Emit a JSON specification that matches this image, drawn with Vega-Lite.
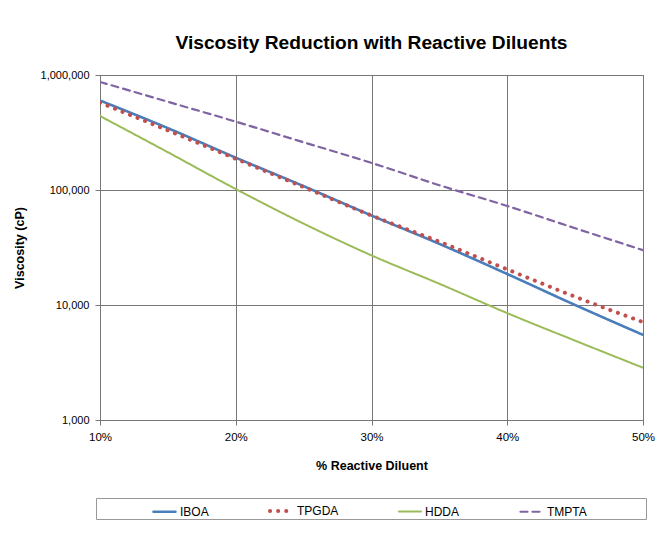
{
  "$schema": "https://vega.github.io/schema/vega-lite/v6.json",
  "width": 543,
  "height": 345,
  "autosize": {"type": "none"},
  "padding": {"left": 100, "top": 75, "right": 24, "bottom": 119},
  "background": "white",
  "title": {
    "text": "Viscosity Reduction with Reactive Diluents",
    "font": "Liberation Sans",
    "fontSize": 19.2,
    "fontWeight": "bold",
    "color": "black",
    "anchor": "middle",
    "offset": 16
  },
  "data": {
    "values": [
      {"pct": 10, "series": "IBOA", "v": 600000},
      {"pct": 15, "series": "IBOA", "v": 345000},
      {"pct": 20, "series": "IBOA", "v": 191000},
      {"pct": 25, "series": "IBOA", "v": 108000},
      {"pct": 30, "series": "IBOA", "v": 60000},
      {"pct": 35, "series": "IBOA", "v": 34000},
      {"pct": 40, "series": "IBOA", "v": 18600},
      {"pct": 45, "series": "IBOA", "v": 10000},
      {"pct": 50, "series": "IBOA", "v": 5500},
      {"pct": 10, "series": "TPGDA", "v": 575000},
      {"pct": 15, "series": "TPGDA", "v": 330000},
      {"pct": 20, "series": "TPGDA", "v": 187000},
      {"pct": 25, "series": "TPGDA", "v": 106000},
      {"pct": 30, "series": "TPGDA", "v": 60000},
      {"pct": 35, "series": "TPGDA", "v": 35500},
      {"pct": 40, "series": "TPGDA", "v": 20400},
      {"pct": 45, "series": "TPGDA", "v": 11800},
      {"pct": 50, "series": "TPGDA", "v": 7100},
      {"pct": 10, "series": "HDDA", "v": 440000},
      {"pct": 15, "series": "HDDA", "v": 213000},
      {"pct": 20, "series": "HDDA", "v": 102000},
      {"pct": 25, "series": "HDDA", "v": 51000},
      {"pct": 30, "series": "HDDA", "v": 27000},
      {"pct": 35, "series": "HDDA", "v": 15300},
      {"pct": 40, "series": "HDDA", "v": 8500},
      {"pct": 45, "series": "HDDA", "v": 4900},
      {"pct": 50, "series": "HDDA", "v": 2850},
      {"pct": 10, "series": "TMPTA", "v": 870000},
      {"pct": 15, "series": "TMPTA", "v": 585000},
      {"pct": 20, "series": "TMPTA", "v": 393000},
      {"pct": 25, "series": "TMPTA", "v": 260000},
      {"pct": 30, "series": "TMPTA", "v": 172000},
      {"pct": 35, "series": "TMPTA", "v": 110000},
      {"pct": 40, "series": "TMPTA", "v": 72600},
      {"pct": 45, "series": "TMPTA", "v": 46500},
      {"pct": 50, "series": "TMPTA", "v": 30000}
    ]
  },
  "mark": {"type": "line", "interpolate": "monotone", "strokeCap": "round", "clip": true},
  "encoding": {
    "x": {
      "field": "pct",
      "type": "quantitative",
      "scale": {"domain": [10, 50], "nice": false, "zero": false},
      "axis": {
        "title": "% Reactive Diluent",
        "values": [10, 20, 30, 40, 50],
        "labelExpr": "datum.value + '%'",
        "labelFlush": false,
        "labelPadding": 6,
        "titlePadding": 17
      }
    },
    "y": {
      "field": "v",
      "type": "quantitative",
      "scale": {"type": "log", "domain": [1000, 1000000], "nice": false},
      "axis": {
        "title": "Viscosity (cP)",
        "values": [1000, 10000, 100000, 1000000],
        "format": ",",
        "labelFontSize": 11,
        "labelPadding": 6,
        "titlePadding": 14
      }
    },
    "color": {
      "field": "series",
      "type": "nominal",
      "scale": {
        "domain": ["IBOA", "TPGDA", "HDDA", "TMPTA"],
        "range": ["#4A7EBB", "#C0504D", "#9BBB59", "#8064A2"]
      },
      "legend": {
        "title": " ",
        "titleOrient": "right",
        "titlePadding": 59,
        "titleFontSize": 2,
        "orient": "none",
        "legendX": -4,
        "legendY": 423,
        "direction": "horizontal",
        "strokeColor": "#999999",
        "padding": 0,
        "symbolType": "stroke",
        "symbolSize": 484,
        "symbolOffset": 56,
        "columnPadding": 3,
        "labelOffset": 3,
        "labelFont": "Liberation Sans",
        "labelFontSize": 12,
        "labelColor": "black",
        "encode": {"symbols": {"update": {"strokeCap": {"value": "round"}}}}
      }
    },
    "strokeDash": {
      "field": "series",
      "type": "nominal",
      "scale": {
        "domain": ["IBOA", "TPGDA", "HDDA", "TMPTA"],
        "range": [[1, 0], [0.1, 8], [1, 0], [7, 5]]
      },
      "legend": null
    },
    "strokeWidth": {
      "field": "series",
      "type": "nominal",
      "scale": {
        "type": "ordinal",
        "domain": ["IBOA", "TPGDA", "HDDA", "TMPTA"],
        "range": [2.6, 4, 2, 2.2]
      },
      "legend": null
    }
  },
  "config": {
    "font": "Liberation Sans",
    "view": {"stroke": "#808080", "strokeWidth": 1},
    "axis": {
      "gridColor": "#777777",
      "gridOpacity": 1,
      "gridWidth": 1,
      "domainColor": "#777777",
      "tickColor": "#777777",
      "tickSize": 5,
      "labelFont": "Liberation Sans",
      "labelFontSize": 11.5,
      "labelColor": "black",
      "titleFont": "Liberation Sans",
      "titleFontSize": 12.5,
      "titleFontWeight": "bold",
      "titleColor": "black"
    }
  }
}
